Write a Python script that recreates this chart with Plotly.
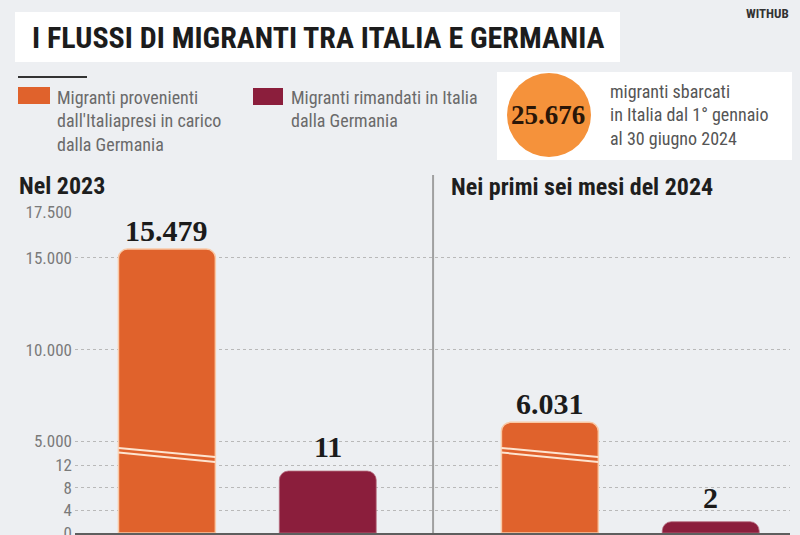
import plotly.graph_objects as go

# ---------------- data ----------------
periods = ["Nel 2023", "Nei primi sei mesi del 2024"]
presi_in_carico = [15479, 6031]      # migranti provenienti dall'Italia presi in carico dalla Germania
rimandati = [11, 2]                  # migranti rimandati in Italia dalla Germania
big_tick_vals = [5000, 10000, 15000, 17500]
big_tick_text = ["5.000", "10.000", "15.000", "17.500"]
small_tick_vals = [0, 4, 8, 12]
small_tick_text = ["0", "4", "8", "12"]
sbarcati_2024 = "25.676"

# ---------------- style / layout constants ----------------
W, H = 800, 535
ML, MR, MT, MB = 75, 10, 212, 2
BG = "#edeff2"
ORANGE = "#e0622c"
ORANGE_EDGE = "#f9c9a6"
DARKRED = "#8b1e3c"
CIRCLE = "#f5923b"
NARROW = "Liberation Sans Narrow, Roboto Condensed, Arial Narrow, sans-serif"
SERIF = "Liberation Serif, DejaVu Serif, serif"

period_pos = [0.0, 1.0]
series_offset = [0.0, 0.42]
bar_w = 0.253
x_range = [-0.240, 1.627]

PW, PH = W - ML - MR, H - MT - MB


def px(x):  # pixel -> paper x
    return (x - ML) / PW


def py(y):  # pixel -> paper y
    return (H - MB - y) / PH


fig = go.Figure()

x_orange = [p + series_offset[0] for p in period_pos]
x_dark = [p + series_offset[1] for p in period_pos]

fig.add_trace(go.Bar(
    x=x_orange, y=presi_in_carico, width=bar_w, yaxis="y",
    marker=dict(color=ORANGE, line=dict(color=ORANGE_EDGE, width=1.5), cornerradius=9),
    hoverinfo="skip", showlegend=False,
))
fig.add_trace(go.Bar(
    x=x_dark, y=rimandati, width=bar_w, yaxis="y2",
    marker=dict(color=DARKRED, line=dict(color="#b56a7c", width=0.8), cornerradius=9),
    hoverinfo="skip", showlegend=False,
))

annotations = []
shapes = []

# value labels
for x, v in zip(x_orange, presi_in_carico):
    annotations.append(dict(x=x, y=v, xref="x", yref="y", text=f"{v:,}".replace(",", "."),
                            showarrow=False, yanchor="bottom", yshift=0,
                            font=dict(family=SERIF, size=30, color="#1b1b1b", weight="bold")))
for x, v in zip(x_dark, rimandati):
    annotations.append(dict(x=x, y=v, xref="x", yref="y2", text=f"{v:,}".replace(",", "."),
                            showarrow=False, yanchor="bottom", yshift=6,
                            font=dict(family=SERIF, size=30, color="#1b1b1b", weight="bold")))

# axis break marks on the orange bars
for x in x_orange:
    for y0, y1 in [(448, 457), (452.5, 462)]:
        shapes.append(dict(type="line", xref="x", yref="paper",
                           x0=x - bar_w / 2, x1=x + bar_w / 2, y0=py(y0), y1=py(y1),
                           line=dict(color="#fde4d0", width=2), layer="above"))

# panel separator
shapes.append(dict(type="line", xref="x", yref="paper", x0=0.695, x1=0.695,
                   y0=0, y1=py(175), line=dict(color="#a0a0a0", width=2)))

# panel titles
annotations.append(dict(x=px(17), y=py(186), xref="paper", yref="paper", text=periods[0],
                        showarrow=False, xanchor="left", yanchor="middle",
                        font=dict(family=NARROW, size=24, color="#1e1e1e", weight="bold")))
annotations.append(dict(x=px(449), y=py(187), xref="paper", yref="paper", text=periods[1],
                        showarrow=False, xanchor="left", yanchor="middle",
                        font=dict(family=NARROW, size=24, color="#1e1e1e", weight="bold")))

# title box
shapes.append(dict(type="rect", xref="paper", yref="paper", x0=px(15), x1=px(620),
                   y0=py(62), y1=py(12), fillcolor="white", line=dict(width=0), layer="below"))
annotations.append(dict(x=px(30), y=py(38), xref="paper", yref="paper",
                        text="I FLUSSI DI MIGRANTI TRA ITALIA E GERMANIA",
                        showarrow=False, xanchor="left", yanchor="middle",
                        font=dict(family=NARROW, size=30, color="#1c1c1c", weight="bold")))
annotations.append(dict(x=px(791), y=py(13), xref="paper", yref="paper", text="WITHUB",
                        showarrow=False, xanchor="right", yanchor="middle",
                        font=dict(family=NARROW, size=13, color="#333333", weight="bold")))

# legend
shapes.append(dict(type="line", xref="paper", yref="paper", x0=px(18), x1=px(87),
                   y0=py(77), y1=py(77), line=dict(color="#333333", width=2)))
shapes.append(dict(type="rect", xref="paper", yref="paper", x0=px(18), x1=px(50),
                   y0=py(104), y1=py(87), fillcolor=ORANGE, line=dict(width=0)))
shapes.append(dict(type="rect", xref="paper", yref="paper", x0=px(253), x1=px(283),
                   y0=py(105), y1=py(88), fillcolor=DARKRED, line=dict(width=0)))
annotations.append(dict(x=px(55), y=py(85), xref="paper", yref="paper",
                        text="Migranti provenienti<br>dall'Italiapresi in carico<br>dalla Germania",
                        showarrow=False, xanchor="left", yanchor="top", align="left",
                        font=dict(family=NARROW, size=18, color="#6a6a6a")))
annotations.append(dict(x=px(289), y=py(85), xref="paper", yref="paper",
                        text="Migranti rimandati in Italia<br>dalla Germania",
                        showarrow=False, xanchor="left", yanchor="top", align="left",
                        font=dict(family=NARROW, size=18, color="#6a6a6a")))

# info box with circle
shapes.append(dict(type="rect", xref="paper", yref="paper", x0=px(497), x1=px(792),
                   y0=py(160), y1=py(72), fillcolor="white", line=dict(width=0)))
shapes.append(dict(type="circle", xref="paper", yref="paper", x0=px(507), x1=px(591),
                   y0=py(157), y1=py(73), fillcolor=CIRCLE, line=dict(width=0)))
annotations.append(dict(x=px(548), y=py(115), xref="paper", yref="paper", text=sbarcati_2024,
                        showarrow=False, xanchor="center", yanchor="middle",
                        font=dict(family=SERIF, size=27, color="#2a1608", weight="bold")))
annotations.append(dict(x=px(608), y=py(115), xref="paper", yref="paper",
                        text="migranti sbarcati<br>in Italia dal 1° gennaio<br>al 30 giugno 2024",
                        showarrow=False, xanchor="left", yanchor="middle", align="left",
                        font=dict(family=NARROW, size=18, color="#555555")))

fig.update_layout(
    width=W, height=H,
    margin=dict(l=ML, r=MR, t=MT, b=MB, pad=0, autoexpand=False),
    paper_bgcolor=BG, plot_bgcolor=BG,
    barmode="overlay",
    separators=",.",
    xaxis=dict(range=x_range, showgrid=False, zeroline=False, showticklabels=False,
               showline=True, linecolor="#5e5e5e", linewidth=3, fixedrange=True,
               automargin=False),
    yaxis=dict(range=[0, 17500], tickvals=big_tick_vals, ticktext=big_tick_text,
               showgrid=True, gridcolor="#b9b9b9", griddash="dot", gridwidth=1,
               zeroline=False, ticks="", ticklabelstandoff=2, ticklabeloverflow="allow",
               automargin=False,
               tickfont=dict(family=NARROW, size=17, color="#7a7a7a")),
    yaxis2=dict(range=[0, 57], tickvals=small_tick_vals, ticktext=small_tick_text,
                overlaying="y", side="left", anchor="x",
                showgrid=True, gridcolor="#b9b9b9", griddash="dot", gridwidth=1,
                zeroline=False, ticks="", ticklabelstandoff=2, ticklabeloverflow="allow",
                automargin=False,
                tickfont=dict(family=NARROW, size=17, color="#7a7a7a")),
    annotations=annotations,
    shapes=shapes,
)

fig.write_html("out.html", config={"displayModeBar": False},
               post_script="document.body.style.margin='0';")
